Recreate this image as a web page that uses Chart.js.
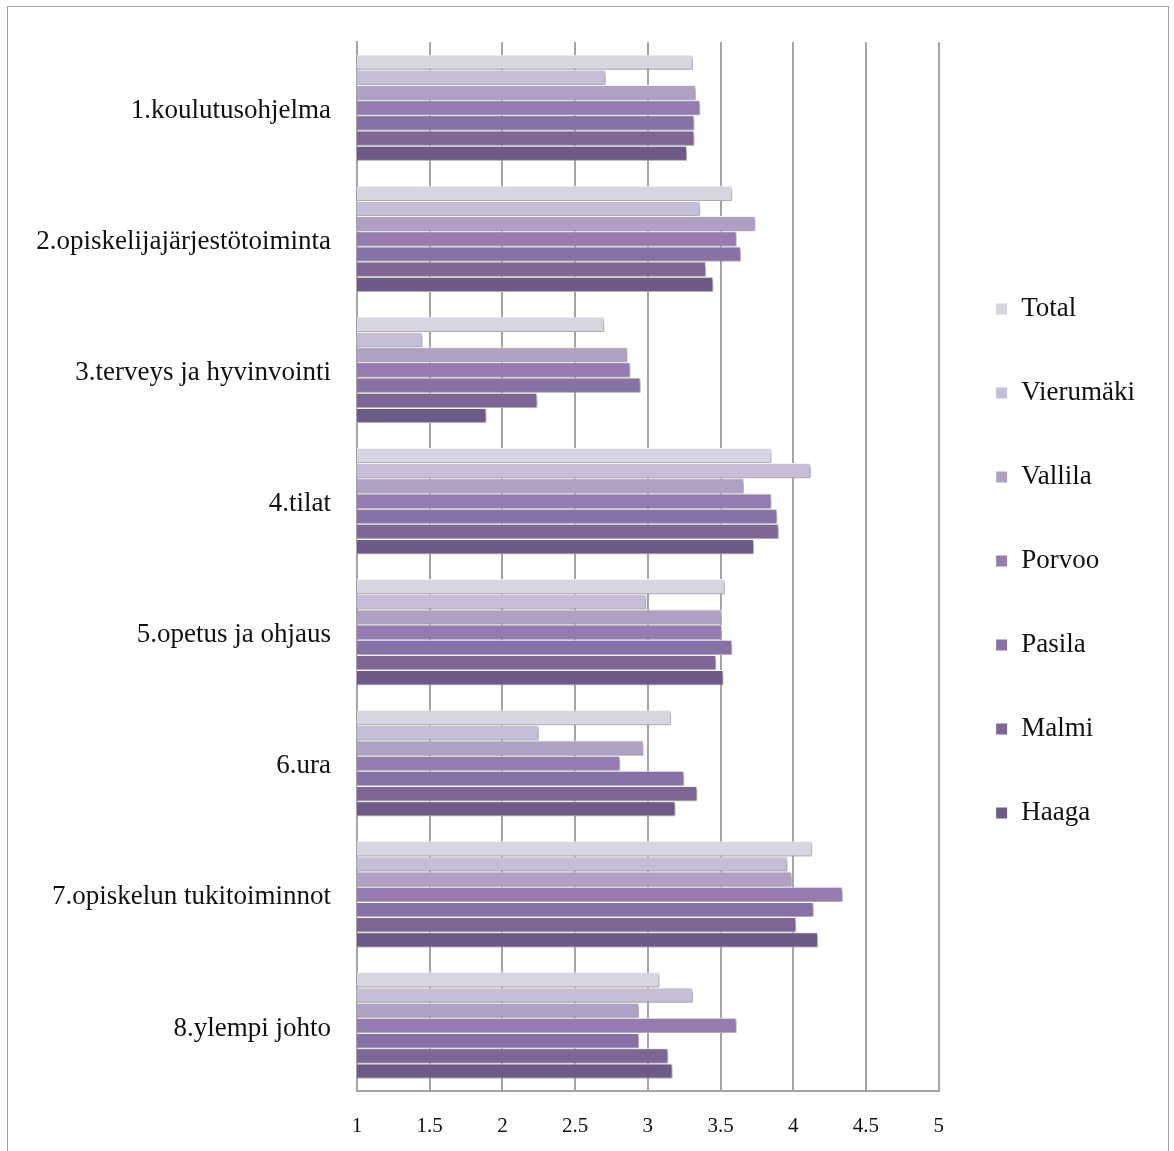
<!DOCTYPE html>
<html>
<head>
<meta charset="utf-8">
<script src="https://cdn.jsdelivr.net/npm/chart.js@4.4.1/dist/chart.umd.min.js"></script>
<style>
  html, body { margin: 0; padding: 0; background: #ffffff; }
  #wrap { position: relative; width: 1174px; height: 1151px; overflow: hidden; }
  #frame { position: absolute; left: 7px; top: 6px; width: 1162px; height: 1170px; border: 1.5px solid #a3a3a3; box-sizing: border-box; }
  #c { position: absolute; left: 0; top: 0; }
</style>
</head>
<body>
<div id="wrap">
  <div id="frame"></div>
  <canvas id="c" width="1174" height="1151"></canvas>
</div>
<script>
// Survey topics (category axis)
const categories = [
  "1.koulutusohjelma",
  "2.opiskelijajärjestötoiminta",
  "3.terveys ja hyvinvointi",
  "4.tilat",
  "5.opetus ja ohjaus",
  "6.ura",
  "7.opiskelun tukitoiminnot",
  "8.ylempi johto"
];

// Mean scores per campus
const total     = [3.31, 3.58, 2.70, 3.85, 3.53, 3.16, 4.13, 3.08];
const vierumaki = [2.71, 3.36, 1.45, 4.12, 2.99, 2.25, 3.96, 3.31];
const vallila   = [3.33, 3.74, 2.86, 3.66, 3.51, 2.97, 3.99, 2.94];
const porvoo    = [3.36, 3.61, 2.88, 3.85, 3.51, 2.81, 4.34, 3.61];
const pasila    = [3.32, 3.64, 2.95, 3.89, 3.58, 3.25, 4.14, 2.94];
const malmi     = [3.32, 3.40, 2.24, 3.90, 3.47, 3.34, 4.02, 3.14];
const haaga     = [3.27, 3.45, 1.89, 3.73, 3.52, 3.19, 4.17, 3.17];

const seriesNames = ["Total", "Vierumäki", "Vallila", "Porvoo", "Pasila", "Malmi", "Haaga"];
const seriesValues = [total, vierumaki, vallila, porvoo, pasila, malmi, haaga];
const seriesColors = ["#d8d4e2", "#c6bdd6", "#b0a0c4", "#947bb1", "#8871a6", "#7d6596", "#6e5a86"];

// X axis tick values
const xTicks = [1, 1.5, 2, 2.5, 3, 3.5, 4, 4.5, 5];

const serif = "'Liberation Serif', 'DejaVu Serif', serif";

// Soft drop shadow under the bars
const barShadow = {
  id: 'barShadow',
  beforeDatasetsDraw(chart) {
    const ctx = chart.ctx;
    ctx.save();
    ctx.shadowColor = 'rgba(0,0,0,0.42)';
    ctx.shadowBlur = 4;
    ctx.shadowOffsetX = 2;
    ctx.shadowOffsetY = 2;
  },
  afterDatasetsDraw(chart) {
    chart.ctx.restore();
  }
};

// Lift the legend column a little above the vertical middle
const legendLift = {
  id: 'legendLift',
  afterLayout(chart) {
    const lg = chart.legend;
    if (lg) { lg.top -= 35; lg.bottom -= 35; }
  }
};

const datasets = seriesNames.map((name, i) => ({
  label: name,
  data: seriesValues[i],
  backgroundColor: seriesColors[i],
  borderColor: '#ffffff',
  borderWidth: 1,
  borderSkipped: false,
  categoryPercentage: 0.81,
  barPercentage: 1.0
}));

new Chart(document.getElementById('c'), {
  type: 'bar',
  data: { labels: categories, datasets },
  plugins: [barShadow, legendLift],
  options: {
    indexAxis: 'y',
    responsive: false,
    animation: false,
    devicePixelRatio: 1,
    layout: { padding: { left: 10, top: 41, right: 29, bottom: 0 } },
    plugins: {
      tooltip: { enabled: false },
      legend: {
        position: 'right',
        align: 'center',
        labels: {
          font: { family: serif, size: 27 },
          color: '#111111',
          boxWidth: 12,
          boxHeight: 12,
          padding: 57
        }
      }
    },
    scales: {
      x: {
        min: 1,
        max: 5,
        afterBuildTicks(scale) {
          scale.ticks = xTicks.map(v => ({ value: v }));
        },
        afterFit(scale) { scale.height = 60; },
        ticks: {
          font: { family: serif, size: 21 },
          color: '#111111',
          padding: 23,
          maxRotation: 0,
          callback: (v) => String(v)
        },
        grid: { color: '#a4a4a4', lineWidth: 2, drawTicks: false },
        border: { display: true, color: '#a4a4a4', width: 2 }
      },
      y: {
        afterFit(scale) { scale.width = 347; },
        ticks: {
          font: { family: serif, size: 27 },
          color: '#111111',
          padding: 26,
          labelOffset: 3
        },
        grid: { display: false, drawTicks: false },
        border: { display: true, color: '#a4a4a4', width: 2 }
      }
    }
  }
});
</script>
</body>
</html>
